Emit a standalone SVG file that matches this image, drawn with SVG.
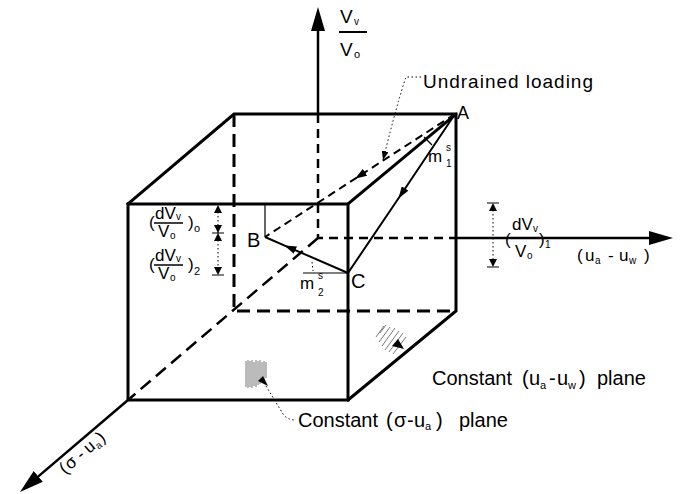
<svg xmlns="http://www.w3.org/2000/svg" width="685" height="494" viewBox="0 0 685 494">
<defs>
<style>
.e{stroke:#000;stroke-width:3;fill:none;stroke-linecap:square}
.h{stroke:#000;stroke-width:3;fill:none;stroke-dasharray:13 7}
.ax{stroke:#000;stroke-width:2.5;fill:none}
.axd{stroke:#000;stroke-width:2.5;fill:none;stroke-dasharray:9 6}
.p{stroke:#000;stroke-width:2;fill:none}
.pd{stroke:#000;stroke-width:2;fill:none;stroke-dasharray:8 5}
.t1{stroke:#000;stroke-width:1.2;fill:none}
.dt{stroke:#000;stroke-width:1;fill:none;stroke-dasharray:1.5 2.5}
.ah{fill:#000;stroke:none}
.hat{stroke:#777;stroke-width:1;fill:none}
text{font-family:"Liberation Sans",Arial,Helvetica,sans-serif;fill:#000}
.lb{font-size:20px}
.fr{font-size:17px}
.sb{font-size:10px}
</style>
<marker id="axh" viewBox="0 0 24 14" refX="1" refY="7" markerWidth="24" markerHeight="14" markerUnits="userSpaceOnUse" orient="auto">
<path d="M0,0 L24,7 L0,14 z" fill="#000"/>
</marker>
<marker id="mid" viewBox="0 0 12 8" refX="6" refY="4" markerWidth="12" markerHeight="8" markerUnits="userSpaceOnUse" orient="auto">
<path d="M0,0 L12,4 L0,8 z" fill="#000"/>
</marker>
<marker id="sm" viewBox="0 0 9 7" refX="9" refY="3.5" markerWidth="9" markerHeight="7" markerUnits="userSpaceOnUse" orient="auto">
<path d="M0,0 L9,3.5 L0,7 z" fill="#000"/>
</marker>
</defs>
<rect width="685" height="494" fill="#fff"/>

<g id="cube">
<rect class="e" x="128" y="204" width="220" height="196"/>
<path class="e" d="M128,204 L234,114 L456,114 L456,311 L348,400 M348,204 L456,114"/>
<path class="h" d="M234,114 L234,311 L456,311"/>
</g>

<g id="axes">
<path class="axd" d="M318,114 L318,238 L456,238"/>
<path class="ax" d="M318,114 L318,30" marker-end="url(#axh)"/>
<path class="ax" d="M456,238 L650,238" marker-end="url(#axh)"/>
<path class="h" style="stroke-width:2.5" d="M318,238 L128,400"/>
<path class="ax" d="M128,400 L37.5,477.1" marker-end="url(#axh)"/>
</g>

<g id="stress-path">
<path class="p" d="M455,114 L401.75,193.5 L348,273" marker-mid="url(#mid)"/>
<path class="p" d="M348,273 L289.9,247.8 L265,237" marker-mid="url(#mid)"/>
<path class="pd" d="M455,114 L360,175.5 L265,237" marker-mid="url(#mid)"/>
<path class="t1" d="M265,237 L265,204"/>
<path class="t1" d="M348,273 L303,273"/>
<path class="dt" d="M312,262 L313,271"/>
<path class="t1" d="M424,137 L432,145"/>
</g>

<g id="point-labels">
<text class="lb" x="457" y="119" style="font-size:18px">A</text>
<text class="lb" x="247" y="247">B</text>
<text class="lb" x="351" y="288">C</text>
<text class="fr" x="428" y="162">m</text>
<text class="sb" x="446" y="151">s</text>
<text class="sb" x="446" y="167">1</text>
<text class="fr" x="300" y="289">m</text>
<text class="sb" x="318" y="279">s</text>
<text class="sb" x="318" y="296">2</text>
</g>

<g id="undrained-label">
<text class="lb" x="423" y="88" style="font-size:19px" textLength="170" lengthAdjust="spacing">Undrained loading</text>
<path class="dt" d="M421,77 L406,77 Q398,100 383,160" marker-end="url(#sm)"/>
</g>

<g id="vertical-axis-label">
<text class="lb" x="340" y="23" style="font-size:19px">V</text>
<text class="sb" x="354" y="25">v</text>
<line x1="339" y1="32" x2="367" y2="32" stroke="#000" stroke-width="2"/>
<text class="lb" x="340" y="56" style="font-size:19px">V</text>
<text class="sb" x="354" y="58" style="font-size:11px">o</text>
</g>

<g id="suction-axis-label">
<text class="fr" x="577" y="261">(</text>
<text class="fr" x="585" y="261">u</text>
<text class="sb" x="595" y="264">a</text>
<text class="fr" x="608" y="261">-</text>
<text class="fr" x="619" y="261">u</text>
<text class="sb" x="629" y="264">w</text>
<text class="fr" x="644" y="261">)</text>
</g>

<g id="net-stress-axis-label">
<g transform="rotate(-40.4 87 456)">
<text class="fr" x="58" y="456">(</text>
<text class="fr" x="65" y="456">σ</text>
<text class="fr" x="80" y="456">-</text>
<text class="fr" x="90" y="456">u</text>
<text class="sb" x="100" y="459">a</text>
<text class="fr" x="107" y="456">)</text>
</g>
</g>

<g id="dim-left">
<path class="dt" d="M218,212 L218,268"/>
<path class="t1" d="M212,233 L224,233 M212,275 L224,275"/>
<path class="ah" d="M218,205 L214,213 L222,213 z M218,233 L214,225 L222,225 z M218,233 L214,241 L222,241 z M218,275 L214,267 L222,267 z"/>
<text class="fr" x="149" y="228">(</text>
<text class="fr" x="155" y="219">dV</text>
<text class="sb" x="176" y="220">v</text>
<line x1="154" y1="223" x2="183" y2="223" stroke="#000" stroke-width="1.5"/>
<text class="fr" x="158" y="237">V</text>
<text class="sb" x="170" y="239">o</text>
<text class="fr" x="188" y="228">)</text>
<text class="sb" x="194" y="232" style="font-size:11px">o</text>
<text class="fr" x="149" y="270">(</text>
<text class="fr" x="155" y="261">dV</text>
<text class="sb" x="176" y="262">v</text>
<line x1="154" y1="265" x2="183" y2="265" stroke="#000" stroke-width="1.5"/>
<text class="fr" x="158" y="279">V</text>
<text class="sb" x="170" y="281">o</text>
<text class="fr" x="188" y="270">)</text>
<text class="sb" x="194" y="275" style="font-size:11px">2</text>
</g>

<g id="dim-right">
<path class="dt" d="M493,210 L493,260"/>
<path class="t1" d="M487,203 L499,203 M487,267 L499,267"/>
<path class="ah" d="M493,203 L489,211 L497,211 z M493,267 L489,259 L497,259 z"/>
<text class="fr" x="505" y="245">(</text>
<text class="fr" x="512" y="230">dV</text>
<text class="sb" x="533" y="232">v</text>
<text class="fr" x="515" y="257">V</text>
<text class="sb" x="527" y="259">o</text>
<text class="fr" x="539" y="245">)</text>
<text class="sb" x="545" y="248">1</text>
</g>

<g id="plane-sigma">
<path class="hat" d="M246,361 V387 M248,360 V388 M250,361 V387 M252,360 V388 M254,362 V386 M256,360 V387 M258,361 V385 M260,360 V384 M262,362 V382 M264,361 V380 M266,362 V378"/>
<path class="ah" d="M268,386 L258,381 L263,376 z"/>
<path class="dt" d="M266,386 L283,414 Q287,420 296,420"/>
<text class="lb" x="298" y="427">Constant</text>
<text class="lb" x="386" y="427">(</text>
<text class="lb" x="394" y="427">σ</text>
<text class="lb" x="407" y="427">-</text>
<text class="lb" x="414" y="427">u</text>
<text class="sb" x="425" y="430" style="font-size:11px">a</text>
<text class="lb" x="436" y="427">)</text>
<text class="lb" x="459" y="427">plane</text>
</g>

<g id="plane-suction">
<path class="hat" d="M376,337 L384,326 M379,342 L390,327 M382,346 L395,328 M385,350 L399,331 M389,352 L403,333 M393,354 L406,337 M380,333 L386,325"/>
<path class="ah" d="M404,349 L392,346 L398,339 z"/>
<text class="lb" x="432" y="385">Constant</text>
<text class="lb" x="522" y="385">(</text>
<text class="lb" x="529" y="385">u</text>
<text class="sb" x="540" y="389" style="font-size:11px">a</text>
<text class="lb" x="549" y="385">-</text>
<text class="lb" x="557" y="385">u</text>
<text class="sb" x="568" y="389" style="font-size:11px">w</text>
<text class="lb" x="579" y="385">)</text>
<text class="lb" x="597" y="385">plane</text>
</g>
</svg>
